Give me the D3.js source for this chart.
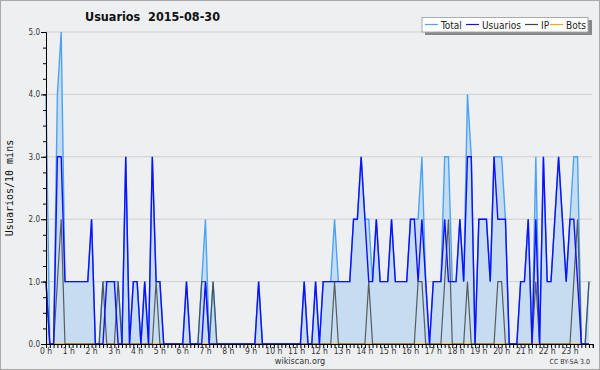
<!DOCTYPE html>
<html>
<head>
<meta charset="utf-8">
<script src="https://cdn.jsdelivr.net/npm/d3@7"></script>
<style>
  body { margin: 0; background: #fff; }
  svg { display: block; font-family: "DejaVu Sans Condensed", "DejaVu Sans", sans-serif; font-stretch: condensed; }
</style>
</head>
<body>
<div id="chart"></div>
<script>
const width = 600;
const height = 370;
const margin = { top: 32, right: 8, bottom: 26, left: 46 };

// 10-minute slots, 144 per day
const total = [
  4,0,0,4,5,1,1,1,1,1,1,1,2,0,0,1,1,1,1,1,0,3,0,1,1,0,1,0,3,1,1,0,
  0,0,0,0,0,1,0,0,0,1,2,0,1,0,0,0,0,0,0,0,0,0,0,0,1,0,0,0,0,0,0,0,
  0,0,0,0,1,0,0,1,0,1,1,1,2,1,1,1,1,2,2,3,2,2,1,2,1,1,1,2,1,1,1,1,
  2,2,2,3,1,0,1,1,1,3,3,1,1,2,1,4,3,0,2,2,2,1,3,3,3,2,0,0,0,1,1,2,
  0,3,0,3,1,1,2,3,2,1,2,3,3,0,0,1
];
const usuarios = [
  1,0,0,3,3,1,1,1,1,1,1,1,2,0,0,0,1,1,1,0,0,3,0,1,1,0,1,0,3,1,1,0,
  0,0,0,0,0,1,0,0,0,0,1,0,0,0,0,0,0,0,0,0,0,0,0,0,1,0,0,0,0,0,0,0,
  0,0,0,0,1,0,0,1,0,1,1,1,1,1,1,1,1,2,2,3,2,1,1,2,1,1,1,2,1,1,1,1,
  2,2,1,2,1,0,1,1,1,2,1,1,1,2,1,3,3,0,2,2,2,1,3,2,2,2,0,0,0,1,1,2,
  0,2,0,3,1,1,2,3,2,1,2,2,1,0,0,0
];
const ip = [
  1,0,0,1,2,0,0,0,0,0,0,0,0,0,0,1,0,0,0,1,0,0,0,0,0,0,0,0,0,1,0,0,
  0,0,0,0,0,0,0,0,0,1,1,0,1,0,0,0,0,0,0,0,0,0,0,0,0,0,0,0,0,0,0,0,
  0,0,0,0,0,0,0,0,0,0,0,0,1,0,0,0,0,0,0,0,0,1,0,0,0,0,0,0,0,0,0,0,
  0,0,1,1,0,0,0,0,0,1,2,0,0,0,0,1,0,0,0,0,0,0,0,1,1,0,0,0,0,0,0,0,
  0,1,0,0,0,0,0,0,0,0,0,1,2,0,0,1
];
const bots = new Array(144).fill(0);

const hourLabels = d3.range(24).map(h => h + " h");
const yTicks = [0, 1, 2, 3, 4, 5];

const series = [
  { name: "Total", values: total, color: "#4ba3f5" },
  { name: "Usuarios", values: usuarios, color: "#1010ff" },
  { name: "IP", values: ip, color: "#444" },
  { name: "Bots", values: bots, color: "#ffa500" }
];

const svg = d3.select("#chart")
  .append("svg")
  .attr("width", width)
  .attr("height", height);

// background + frame
svg.append("rect")
  .attr("x", 0.5).attr("y", 0.5)
  .attr("width", width - 1).attr("height", height - 1)
  .attr("fill", "#eeeff1")
  .attr("stroke", "#a8a8a8");

const x = d3.scaleLinear()
  .domain([0, 144])
  .range([margin.left, margin.left + 144 * 3.797]);

const y = d3.scaleLinear()
  .domain([0, 5])
  .range([height - margin.bottom, margin.top]);

// grid
svg.append("g")
  .selectAll("line")
  .data(yTicks.slice(1))
  .join("line")
  .attr("x1", margin.left).attr("x2", width - 8)
  .attr("y1", d => y(d)).attr("y2", d => y(d))
  .attr("stroke", "#cfcfcf");

// total area
svg.append("path")
  .datum(total)
  .attr("fill", "#c6ddf1")
  .attr("d", d3.area()
    .x((d, i) => x(i))
    .y0(y(0))
    .y1(d => y(d)));

// lines (bots first, underneath)
const line = d3.line().x((d, i) => x(i)).y(d => y(d));
[series[3], series[0], series[2], series[1]].forEach(s => {
  svg.append("path")
    .datum(s.values)
    .attr("fill", "none")
    .attr("stroke", s.color)
    .attr("stroke-width", s.name === "IP" ? 1.2 : 1.4)
    .attr("stroke-opacity", s.name === "IP" ? 0.85 : 1)
    .attr("d", line);
});

// y axis
const gY = svg.append("g")
  .attr("transform", `translate(${margin.left},0)`)
  .call(d3.axisLeft(y).tickValues(d3.range(0, 5.01, 0.25)).tickSize(3).tickFormat(""));
gY.selectAll(".tick line").attr("stroke", "#000");
gY.select(".domain").attr("stroke", "#000");

svg.append("g")
  .attr("transform", `translate(${margin.left},0)`)
  .call(d3.axisLeft(y).tickValues(yTicks).tickSize(5).tickFormat(d3.format(".1f")))
  .call(g => g.select(".domain").remove())
  .call(g => g.selectAll("text")
    .attr("font-family", "DejaVu Sans Condensed, DejaVu Sans")
    .attr("font-size", 8)
    .attr("fill", "#333")
    .attr("dx", 2));

// x axis
const gX = svg.append("g")
  .attr("transform", `translate(0,${y(0)})`)
  .call(d3.axisBottom(x).tickValues(d3.range(0, 145)).tickSize(4).tickFormat(""));
gX.select(".domain").attr("stroke", "#000");
gX.selectAll(".tick line").attr("stroke", "#000");

svg.append("g")
  .selectAll("text")
  .data(hourLabels)
  .join("text")
  .attr("x", (d, i) => x(i * 6))
  .attr("y", 354)
  .attr("text-anchor", "middle")
  .attr("font-size", 8.5)
  .attr("fill", "#333")
  .text(d => d);

// title
svg.append("text")
  .attr("x", 85)
  .attr("y", 21)
  .attr("font-size", 12.5)
  .attr("font-weight", "bold")
  .attr("fill", "#111")
  .attr("xml:space", "preserve")
  .style("white-space", "pre")
  .text("Usuarios  2015-08-30");

// y label
svg.append("text")
  .attr("transform", "translate(13,188) rotate(-90)")
  .attr("text-anchor", "middle")
  .attr("font-family", "DejaVu Sans Mono")
  .attr("font-size", 10)
  .attr("fill", "#111")
  .text("Usuarios/10 mins");

// footer
svg.append("text")
  .attr("x", 300).attr("y", 364)
  .attr("text-anchor", "middle")
  .attr("font-size", 9)
  .attr("fill", "#333")
  .text("wikiscan.org");

svg.append("text")
  .attr("x", 590).attr("y", 364)
  .attr("text-anchor", "end")
  .attr("font-size", 7)
  .attr("fill", "#333")
  .text("CC BY-SA 3.0");

// legend
const legend = svg.append("g");
legend.append("rect")
  .attr("x", 425).attr("y", 20)
  .attr("width", 167).attr("height", 15)
  .attr("fill", "#888");
legend.append("rect")
  .attr("x", 422).attr("y", 17.5)
  .attr("width", 166).attr("height", 14.5)
  .attr("fill", "#fff")
  .attr("stroke", "#aaa");

const legendX = [425, 466, 525, 550];
series.forEach((s, i) => {
  legend.append("line")
    .attr("x1", legendX[i]).attr("x2", legendX[i] + 13)
    .attr("y1", 24.5).attr("y2", 24.5)
    .attr("stroke", s.color)
    .attr("stroke-width", 1.2);
  legend.append("text")
    .attr("x", legendX[i] + 16)
    .attr("y", 28.5)
    .attr("font-size", 10)
    .attr("fill", "#222")
    .text(s.name);
});
</script>
</body>
</html>
